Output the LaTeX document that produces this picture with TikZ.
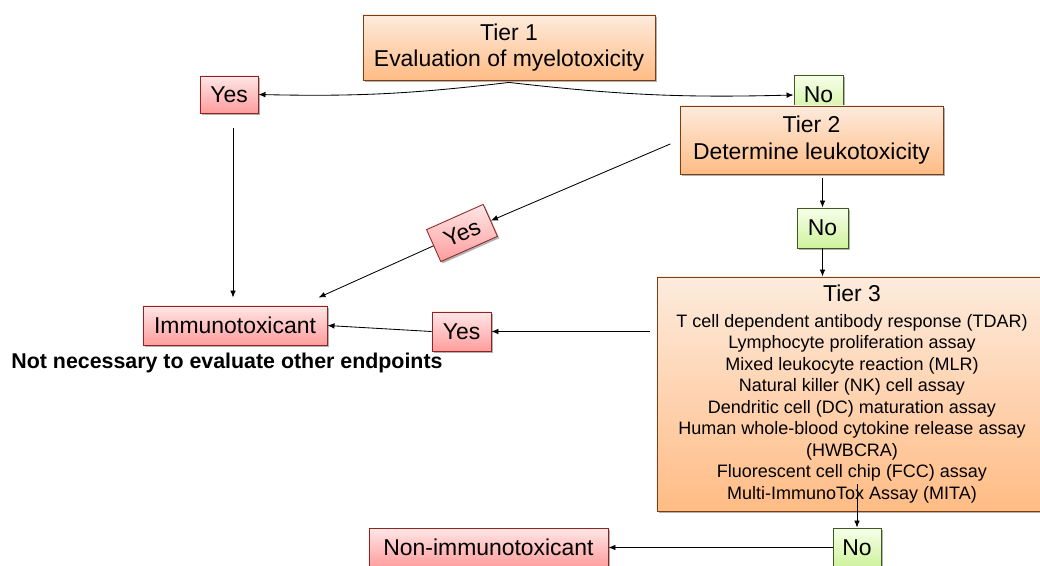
\documentclass[tikz,border=0pt]{standalone}
\usepackage{fontspec}
\setmainfont{Liberation Sans}
\usetikzlibrary{arrows.meta,shadows}
\definecolor{orangetop}{HTML}{FDEBDD}
\definecolor{orangebot}{HTML}{FFBC85}
\definecolor{orangeline}{HTML}{7A3E14}
\definecolor{pinktop}{HTML}{FFE6E6}
\definecolor{pinkbot}{HTML}{FF9D9D}
\definecolor{pinkline}{HTML}{8C2424}
\definecolor{greentop}{HTML}{F7FFEA}
\definecolor{greenbot}{HTML}{CFF29C}
\definecolor{greenline}{HTML}{3E5A22}

\begin{document}
\begin{tikzpicture}[x=0.025cm,y=-0.025cm,
  flowbox/.style={draw=#1, line width=0.6pt, inner sep=0pt, align=center,
    drop shadow={shadow xshift=1.3pt, shadow yshift=-1.3pt, fill=black!60},
    font=\fontsize{16.3}{19}\selectfont},
  tierbox/.style={flowbox=orangeline, top color=orangetop, bottom color=orangebot},
  yesbox/.style={flowbox=pinkline, top color=pinktop, bottom color=pinkbot},
  nobox/.style={flowbox=greenline, top color=greentop, bottom color=greenbot},
  arr/.style={-{Latex[length=5pt,width=4pt]}, line width=0.6pt}]
\useasboundingbox (0,0) rectangle (1040,566);

\node[tierbox, minimum width=7.3cm, minimum height=1.625cm] (tier1) at (509,47.5) {Tier 1\\Evaluation of myelotoxicity};
\node[yesbox, minimum width=1.45cm, minimum height=0.925cm] (yes1) at (229,94.5) {Yes};
\node[nobox, minimum width=1.225cm, minimum height=1cm] (no1) at (818.5,95) {No};
\node[tierbox, minimum width=6.575cm, minimum height=1.7cm] (tier2) at (811.5,140) {Tier 2\\Determine leukotoxicity};
\node[nobox, minimum width=1.275cm, minimum height=1cm] (no2) at (822.5,228) {No};

\node[tierbox, minimum width=9.75cm, minimum height=5.85cm, font=\fontsize{12.8}{15.3}\selectfont] (tier3) at (852,394)
  {{\fontsize{16.3}{15.3}\selectfont Tier 3}\\[3pt]
   T cell dependent antibody response (TDAR)\\
   Lymphocyte proliferation assay\\
   Mixed leukocyte reaction (MLR)\\
   Natural killer (NK) cell assay\\
   Dendritic cell (DC) maturation assay\\
   Human whole-blood cytokine release assay\\
   (HWBCRA)\\
   Fluorescent cell chip (FCC) assay\\
   Multi-ImmunoTox Assay (MITA)};

\node[yesbox, minimum width=1.55cm, minimum height=0.875cm, rotate=24] (yes2) at (462,233) {Yes};
\node[yesbox, minimum width=4.6cm, minimum height=0.975cm] (immuno) at (235,325.5) {Immunotoxicant};
\node[yesbox, minimum width=1.475cm, minimum height=0.975cm] (yes3) at (461.5,331.5) {Yes};
\node[font=\bfseries\fontsize{15.2}{18}\selectfont] (note) at (227,363) {Not necessary to evaluate other endpoints};
\node[yesbox, minimum width=5.975cm, minimum height=0.975cm] (nonimmuno) at (488.5,547.5) {Non-immunotoxicant};
\node[nobox, minimum width=1.2cm, minimum height=0.975cm] (no3) at (857,547.5) {No};

\draw[arr] ([yshift=-0.05cm]tier1.south) to[bend left=4] (yes1.east);
\draw[arr] ([yshift=-0.05cm]tier1.south) to[bend right=4] (no1.west);
\draw[arr, shorten <=0.375cm, shorten >=0.2cm] ([xshift=0.1cm]yes1.south) -- ([xshift=0.1cm]yes1.south |- immuno.north);

\draw[arr, shorten <=0.25cm] (tier2.west) -- (yes2);
\draw[arr] (yes2) -- ([xshift=-0.225cm,yshift=0.2cm]immuno.north east);
\draw[arr, shorten <=0.1cm] (no2.north |- tier2.south) -- (no2.north);
\draw[arr] (no2.south) -- (no2.south |- tier3.north);

\draw[arr] ([xshift=-0.175cm]tier3.west |- yes3.east) -- (yes3.east);
\draw[arr] (yes3.west) -- (immuno.east);
\draw[arr] ([yshift=0.675cm]no3.north |- tier3.south) -- (no3.north);
\draw[arr] (no3.west) -- (nonimmuno.east);
\end{tikzpicture}
\end{document}
